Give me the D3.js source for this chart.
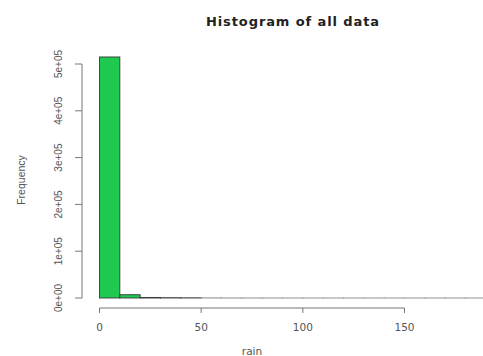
<!DOCTYPE html>
<html><head><meta charset="utf-8">
<script src="https://cdn.jsdelivr.net/npm/d3@7"></script>
<style>body{margin:0;background:#fff}</style>
</head><body>
<svg id="c" width="483" height="356"></svg>
<script>
const binEdges = [0,10,20,30,40,50,60,70,80,90,100,110,120,130,140,150,160,170,180,190];
const counts = [515000,7000,1200,600,350,150,80,50,30,20,12,8,5,4,3,2,2,1,1];
const xTicks = [0,50,100,150];
const yTicks = [0,100000,200000,300000,400000,500000];
const yTickLabels = ["0e+00","1e+05","2e+05","3e+05","4e+05","5e+05"];

const svg = d3.select("#c");
const x = d3.scaleLinear().domain([0,150]).range([99.5,404.5]);
const y = d3.scaleLinear().domain([0,500000]).range([298,64]);

const bins = counts.map((c,i)=>({x0:binEdges[i],x1:binEdges[i+1],c}));
svg.append("g").selectAll("rect").data(bins).join("rect")
  .attr("x",d=>x(d.x0)).attr("width",d=>x(d.x1)-x(d.x0))
  .attr("y",d=>y(d.c)).attr("height",d=>Math.max(0,y(0)-y(d.c)))
  .attr("fill","#1fc84f").attr("stroke",d=>d.x0<50?"#3a3a3a":"#888").attr("stroke-width",0.9);

// x axis
const xa = svg.append("g").attr("transform","translate(0,308)");
xa.append("line").attr("x1",x(0)).attr("x2",x(150)).attr("stroke","#777").attr("stroke-width",1);
xa.selectAll("line.t").data(xTicks).join("line").attr("class","t")
  .attr("x1",d=>x(d)).attr("x2",d=>x(d)).attr("y1",0).attr("y2",5).attr("stroke","#777");
xa.selectAll("text").data(xTicks).join("text")
  .attr("x",d=>x(d)).attr("y",23).attr("text-anchor","middle")
  .attr("font-family","DejaVu Sans").attr("font-size",10.5).attr("fill","#555").text(d=>d);

// y axis
const ya = svg.append("g").attr("transform","translate(82,0)");
ya.append("line").attr("y1",y(0)).attr("y2",y(500000)).attr("stroke","#777");
ya.selectAll("line.t").data(yTicks).join("line").attr("class","t")
  .attr("y1",d=>y(d)).attr("y2",d=>y(d)).attr("x1",0).attr("x2",-7).attr("stroke","#777");
ya.selectAll("text").data(yTicks).join("text")
  .attr("transform",d=>`translate(-20,${y(d)}) rotate(-90)`).attr("text-anchor","middle")
  .attr("font-family","Liberation Sans, Arial").attr("font-size",10).attr("fill","#555")
  .text((d,i)=>yTickLabels[i]);

svg.append("text").attr("transform","translate(25,180) rotate(-90)").attr("text-anchor","middle")
  .attr("font-family","Liberation Sans, Arial").attr("font-size",10.5).attr("fill","#555").text("Frequency");
svg.append("text").attr("x",x(75)).attr("y",355).attr("text-anchor","middle")
  .attr("font-family","DejaVu Sans").attr("font-size",10.5).attr("fill","#555").text("rain");
svg.append("text").attr("x",293).attr("y",26).attr("text-anchor","middle")
  .attr("font-family","DejaVu Sans").attr("font-weight","bold").attr("font-size",13)
  .attr("letter-spacing",0.9).attr("fill","#222").text("Histogram of all data");
</script>
</body></html>
